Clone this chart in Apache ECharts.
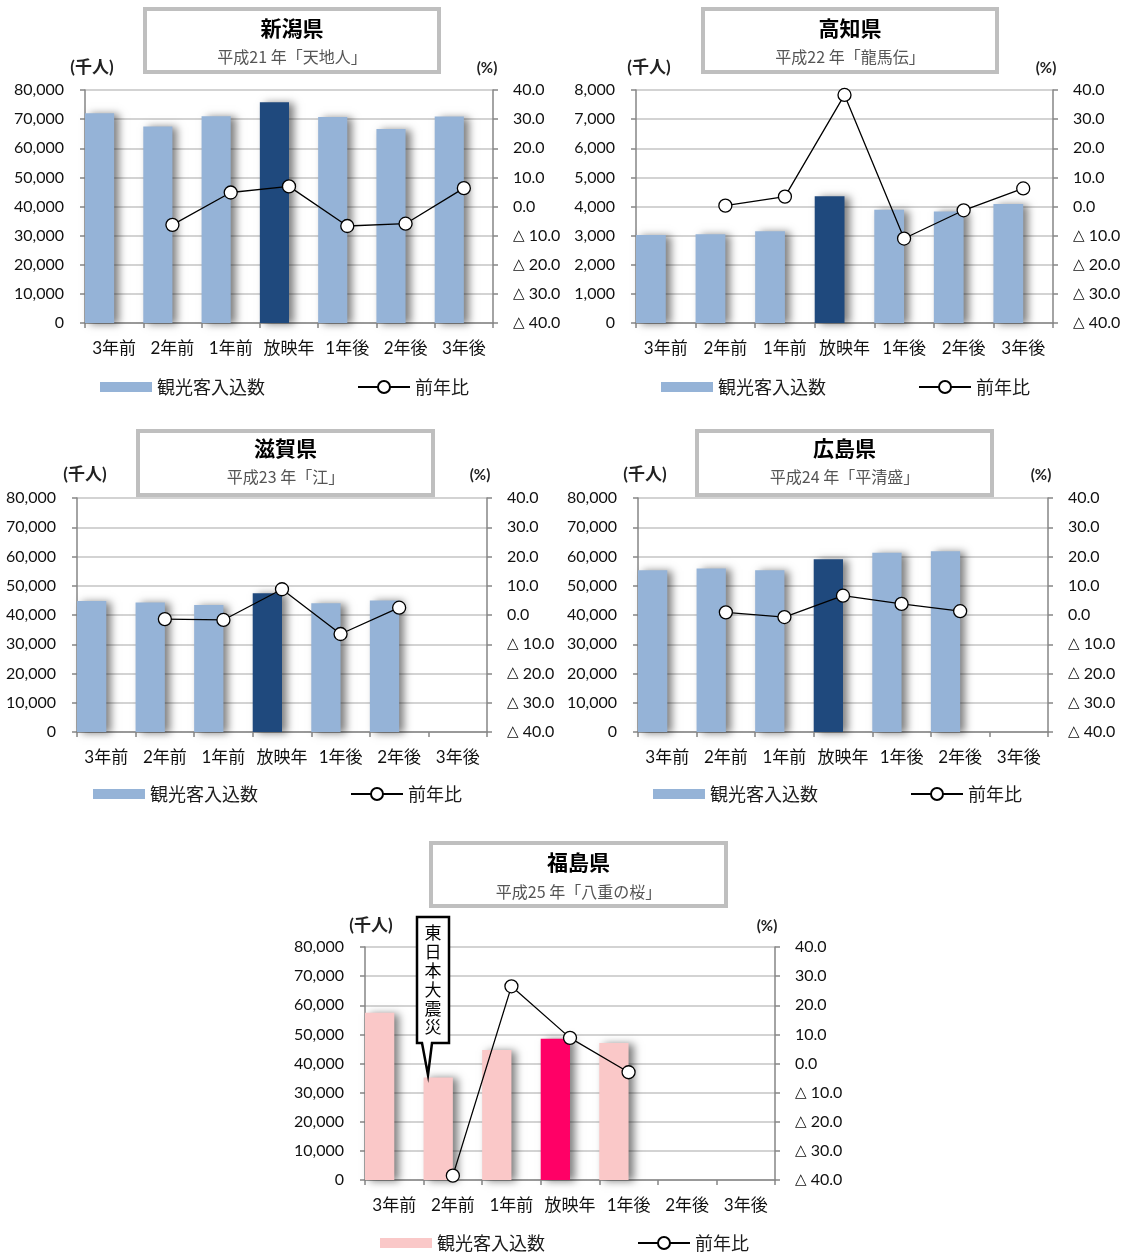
<!DOCTYPE html>
<html>
<head>
<meta charset="utf-8">
<script src="https://cdn.jsdelivr.net/npm/echarts@6/dist/echarts.min.js"></script>
<style>
  html, body { margin: 0; padding: 0; background: #fff; }
  #chart { width: 1129px; height: 1252px; }
</style>
</head>
<body>
<div id="chart"></div>
<script>
// Years relative to the broadcast year of each NHK taiga drama
const categories = ['3年前', '2年前', '1年前', '放映年', '1年後', '2年後', '3年後'];

// Tourist visits (thousand people)
const niigataVisitors   = [72000, 67500, 71000, 75800, 70700, 66600, 70900];
const kochiVisitors     = [3020, 3050, 3150, 4350, 3890, 3830, 4090];
const shigaVisitors     = [44800, 44300, 43400, 47400, 44000, 45000, null];
const hiroshimaVisitors = [55300, 55900, 55300, 59100, 61300, 61800, null];
const fukushimaVisitors = [57400, 35200, 44600, 48500, 47000, null, null];

// Change from previous year (%)
const niigataChange   = [null, -6.3, 4.8, 6.9, -6.7, -5.9, 6.3];
const kochiChange     = [null, 0.3, 3.4, 38.3, -11.0, -1.3, 6.2];
const shigaChange     = [null, -1.4, -1.7, 8.8, -6.5, 2.5, null];
const hiroshimaChange = [null, 0.9, -0.7, 6.6, 3.8, 1.3, null];
const fukushimaChange = [null, -38.5, 26.5, 8.8, -3.0, null, null];

const prefectures = ['新潟県', '高知県', '滋賀県', '広島県', '福島県'];
const dramas = ['平成21 年「天地人」', '平成22 年「龍馬伝」', '平成23 年「江」', '平成24 年「平清盛」', '平成25 年「八重の桜」'];
const visitorMax  = [80000, 8000, 80000, 80000, 80000];
const visitorStep = [10000, 1000, 10000, 10000, 10000];
const changeMin = -40, changeMax = 40, changeStep = 10;
const releaseIndex = 3;
const quakeNote = '東日本大震災';

const visitorSeries = [niigataVisitors, kochiVisitors, shigaVisitors, hiroshimaVisitors, fukushimaVisitors];
const changeSeries  = [niigataChange, kochiChange, shigaChange, hiroshimaChange, fukushimaChange];

// Colours: blue panels, and a pink panel for Fukushima
const palettes = [
  { base: '#95B3D7', hi: '#1F497D' },
  { base: '#95B3D7', hi: '#1F497D' },
  { base: '#95B3D7', hi: '#1F497D' },
  { base: '#95B3D7', hi: '#1F497D' },
  { base: '#FAC8C8', hi: '#FF0066' }
];

// Panel geometry
const panels = [
  { grid: [85, 90, 408, 233],  box: [143, 7, 298, 67],   titleY: 28,  subY: 57,  unitL: [92, 68],   unitR: [487, 68],   legend: [100, 387] },
  { grid: [636, 90, 417, 233], box: [701, 7, 298, 67],   titleY: 28,  subY: 57,  unitL: [649, 68],  unitR: [1046, 68],  legend: [661, 387] },
  { grid: [77, 498, 410, 234], box: [136, 429, 299, 68], titleY: 448, subY: 477, unitL: [85, 475],  unitR: [480, 475],  legend: [93, 794] },
  { grid: [638, 498, 410, 234],box: [695, 429, 299, 68], titleY: 448, subY: 477, unitL: [645, 475], unitR: [1041, 475], legend: [653, 794] },
  { grid: [365, 947, 410, 233],box: [429, 841, 299, 67], titleY: 862, subY: 892, unitL: [371, 926], unitR: [767, 926], legend: [380, 1243] }
];

const numFont = "Lato, 'Noto Sans CJK JP', sans-serif";
const jpFont = "'Noto Sans CJK JP', sans-serif";
const axisGray = '#868686';
const gridGray = '#C4C4C4';

const grid = [], xAxis = [], yAxis = [], series = [], legend = [], graphic = [];

panels.forEach((p, i) => {
  const [gl, gt, gw, gh] = p.grid;
  grid.push({ left: gl, top: gt, width: gw, height: gh, containLabel: false });

  xAxis.push({
    type: 'category', gridIndex: i, data: categories, boundaryGap: true,
    axisLine: { onZero: false, lineStyle: { color: axisGray, width: 1.5 } },
    axisTick: { show: true, length: 5, lineStyle: { color: axisGray, width: 1.5 } },
    axisLabel: { color: '#111', fontSize: 17, fontFamily: numFont, margin: 17, interval: 0 }
  });

  yAxis.push({
    type: 'value', gridIndex: i, position: 'left', min: 0, max: visitorMax[i], interval: visitorStep[i],
    axisLine: { show: true, lineStyle: { color: axisGray, width: 1.5 } },
    axisTick: { show: true, length: 5, lineStyle: { color: axisGray, width: 1.5 } },
    splitLine: { show: true, lineStyle: { color: gridGray, width: 1.5 } },
    axisLabel: { color: '#111', fontSize: 16, fontFamily: numFont, margin: 21,
      formatter: v => v.toLocaleString('en-US') }
  });
  yAxis.push({
    type: 'value', gridIndex: i, position: 'right', min: changeMin, max: changeMax, interval: changeStep,
    axisLine: { show: true, lineStyle: { color: axisGray, width: 1.5 } },
    axisTick: { show: true, length: 5, lineStyle: { color: axisGray, width: 1.5 } },
    splitLine: { show: false },
    axisLabel: { color: '#111', fontSize: 16, fontFamily: numFont, margin: 20,
      formatter: v => v < 0 ? '{tri|△} ' + Math.abs(v).toFixed(1) : v.toFixed(1),
      rich: { tri: { fontSize: 15, fontFamily: "'DejaVu Sans', sans-serif", color: '#111' } } }
  });

  const pal = palettes[i];
  const shadow = { shadowColor: 'rgba(0,0,0,0.5)', shadowBlur: 8, shadowOffsetX: 5, shadowOffsetY: 1 };
  series.push({
    name: '観光客入込数', type: 'bar', xAxisIndex: i, yAxisIndex: 2 * i,
    barGap: '0%', barCategoryGap: '0%',
    itemStyle: Object.assign({ color: pal.base }, shadow),
    data: visitorSeries[i].map((v, k) => k === releaseIndex && v != null
      ? { value: v, itemStyle: { color: pal.hi } } : v),
    z: 2
  });
  // empty companion series keeps each bar in the left half of its category
  series.push({
    name: 'spacer', type: 'bar', xAxisIndex: i, yAxisIndex: 2 * i,
    data: categories.map(() => null), silent: true
  });
  series.push({
    name: '前年比', type: 'line', xAxisIndex: i, yAxisIndex: 2 * i + 1,
    data: changeSeries[i], symbol: 'circle', symbolSize: 13, showAllSymbol: true,
    lineStyle: { color: '#000', width: 1.3 },
    itemStyle: { color: '#fff', borderColor: '#000', borderWidth: 1.3 },
    z: 5
  });

  legend.push({
    left: p.legend[0] - 5, top: p.legend[1] - 14, orient: 'horizontal',
    itemWidth: 52, itemHeight: 15, itemGap: 92, symbolKeepAspect: true,
    selectedMode: false,
    textStyle: { fontSize: 18, color: '#1a1a1a', fontFamily: jpFont },
    data: [
      { name: '観光客入込数', icon: 'path://M0,0H52V10H0Z', itemStyle: { color: pal.base, shadowBlur: 0, shadowOffsetX: 0, shadowOffsetY: 0 } },
      { name: '前年比' }
    ]
  });

  // title box
  const [bx, by, bw, bh] = p.box;
  graphic.push({
    type: 'rect', shape: { x: bx + 2, y: by + 2, width: bw - 4, height: bh - 4 },
    style: { fill: '#fff', stroke: '#BFBFBF', lineWidth: 4 }, z: 10
  });
  graphic.push({
    type: 'text', x: bx + bw / 2, y: p.titleY, z: 11,
    style: { text: prefectures[i], font: "bold 21px 'Noto Sans CJK JP'", fill: '#000', align: 'center', verticalAlign: 'middle' }
  });
  graphic.push({
    type: 'text', x: bx + bw / 2, y: p.subY, z: 11,
    style: { text: dramas[i], font: "16px 'Noto Sans CJK JP'", fill: '#555', align: 'center', verticalAlign: 'middle' }
  });
  graphic.push({
    type: 'text', x: p.unitL[0], y: p.unitL[1], z: 11,
    style: { text: '(千人)', font: "bold 17px " + numFont, fill: '#222', align: 'center', verticalAlign: 'middle' }
  });
  graphic.push({
    type: 'text', x: p.unitR[0], y: p.unitR[1], z: 11,
    style: { text: '(%)', font: "bold 15px " + numFont, fill: '#222', align: 'center', verticalAlign: 'middle' }
  });
});

// Callout marking the Great East Japan Earthquake year in the Fukushima panel
graphic.push({
  type: 'polygon', z: 12,
  shape: { points: [[417, 917], [449, 917], [449, 1043], [432, 1043], [428, 1075], [422, 1043], [417, 1043]] },
  style: { fill: '#fff', stroke: '#000', lineWidth: 2.5 }
});
graphic.push({
  type: 'text', x: 433, y: 980, z: 13,
  style: { text: quakeNote.split('').join('\n'), font: "17px 'Noto Sans CJK JP'", lineHeight: 18.8,
    fill: '#000', align: 'center', verticalAlign: 'middle' }
});

const chart = echarts.init(document.getElementById('chart'), null, { renderer: 'canvas' });
chart.setOption({
  backgroundColor: '#fff',
  animation: false,
  grid, xAxis, yAxis, series, legend, graphic
});
</script>
</body>
</html>
